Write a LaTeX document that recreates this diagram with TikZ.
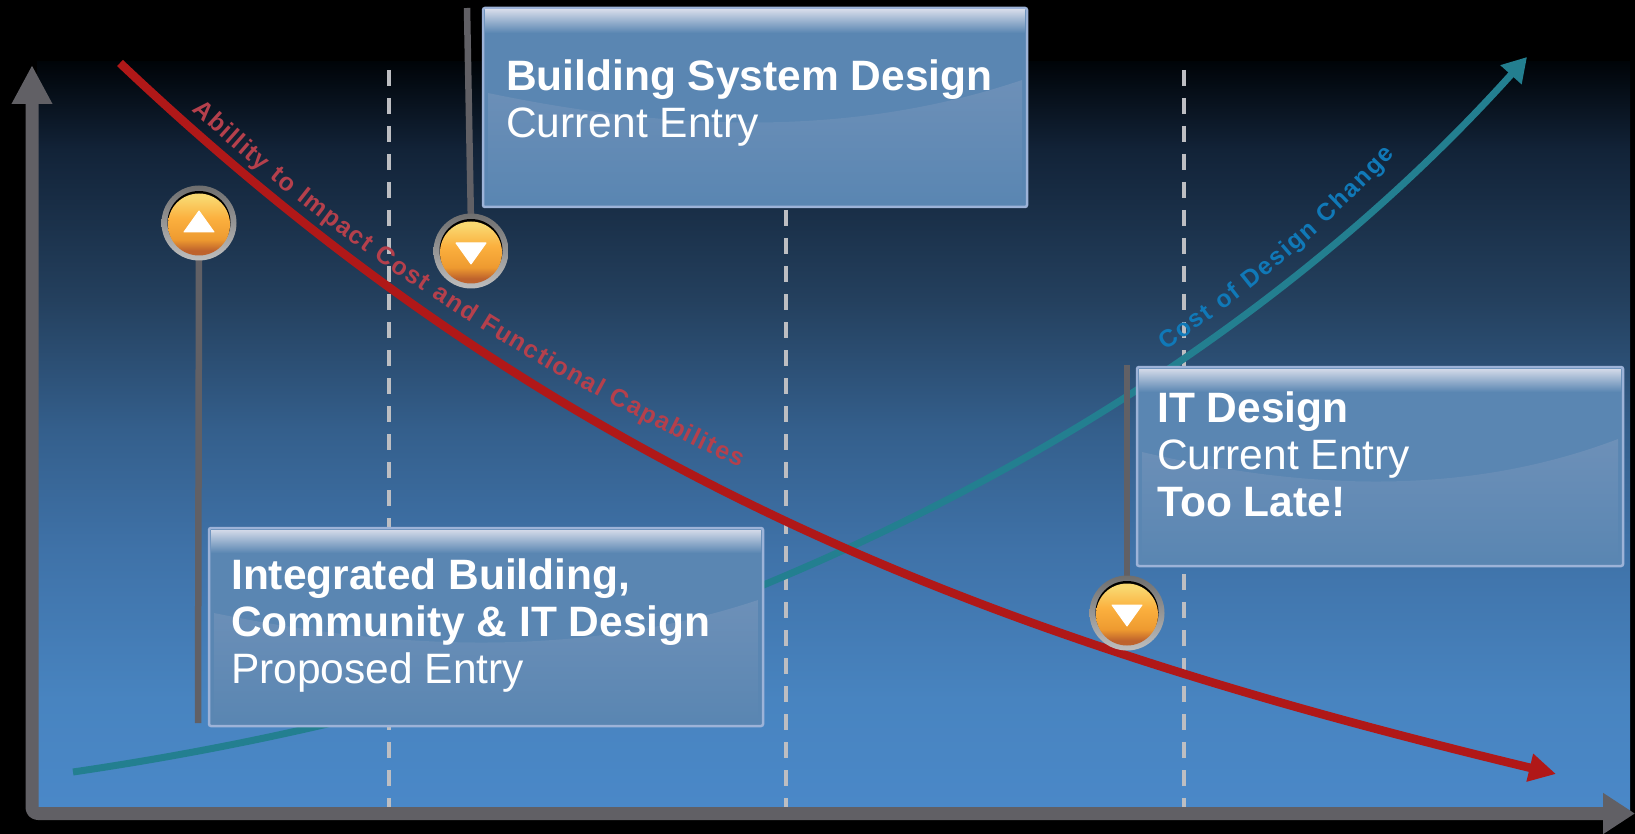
\documentclass[tikz,border=0pt]{standalone}
\usepackage{fontspec}
\setmainfont{Liberation Sans}
\usetikzlibrary{arrows.meta,calc,decorations.text}
\definecolor{bg0}{HTML}{000408}
\definecolor{bg1}{HTML}{122338}
\definecolor{bg2}{HTML}{24405E}
\definecolor{bg3}{HTML}{345F8C}
\definecolor{bg4}{HTML}{3F72A8}
\definecolor{bg5}{HTML}{4884C0}
\definecolor{bg6}{HTML}{4A88C8}
\definecolor{axiscol}{HTML}{616065}
\definecolor{redcol}{HTML}{B01818}
\definecolor{tealcol}{HTML}{237F90}
\definecolor{redtxt}{HTML}{B5404C}
\definecolor{bluetxt}{HTML}{1079B8}
\definecolor{dashcol}{HTML}{BDBEC2}
\definecolor{boxbody}{HTML}{5A86B2}
\definecolor{boxgloss}{HTML}{6D90B8}
\definecolor{boxtop}{HTML}{D2D9E8}
\definecolor{boxedge}{HTML}{9DB3D8}
\definecolor{or1}{HTML}{F9D870}
\definecolor{or2}{HTML}{FBB03E}
\definecolor{or3}{HTML}{EE9A30}
\definecolor{or4}{HTML}{BE622C}
\definecolor{ring1}{HTML}{6E6E6E}
\definecolor{ring2}{HTML}{BEBEBE}
\pgfdeclareverticalshading{bgshade}{100bp}{color(0bp)=(bg6);color(25bp)=(bg6);color(32.35bp)=(bg5);color(42.4bp)=(bg4);color(50.4bp)=(bg3);color(59.1bp)=(bg2);color(69.1bp)=(bg1);color(75bp)=(bg0);color(100bp)=(bg0)}
\pgfdeclareverticalshading{ballshade}{100bp}{color(0bp)=(or4);color(29bp)=(or4);color(38bp)=(or3);color(55bp)=(or2);color(72bp)=(or1);color(100bp)=(or1)}
\newcommand{\glossbox}[3]{%
  \begin{scope}[shift={(#1.north west)}]
    \shade[top color=boxtop,bottom color=boxbody] (2,2) rectangle (#2-2,25);
    \shade[top color=boxgloss,bottom color=boxbody] (5,85) .. controls (.3*#2,118) and (.65*#2,135) .. (#2-5,72) -- (#2-5,#3-5) -- (5,#3-5) -- cycle;
  \end{scope}}
\tikzset{
  x=1pt,y=-1pt,
  axisline/.style={draw=axiscol,line width=13pt,line join=round,rounded corners=6pt},
  dashline/.style={draw=dashcol,line width=4pt,dash pattern=on 16pt off 12pt},
  redcurve/.style={draw=redcol,line width=8.5pt,-{Triangle[width=27pt,length=27pt]}},
  tealcurve/.style={draw=tealcol,line width=7pt,-{Triangle[width=27pt,length=24pt]}},
  stem/.style={draw=axiscol,line width=6.5pt},
  gbox/.style n args={2}{draw=boxedge,line width=2.5pt,rounded corners=2pt,fill=boxbody,anchor=north west,inner sep=0pt,outer sep=0pt,
    minimum width=#1 pt,minimum height=#2 pt},
  btn/.style={circle,minimum size=75pt,inner sep=0pt,outer sep=0pt,top color=ring1,bottom color=ring2,
    path picture={
      \fill[black] (0,-.5) circle (31.5);
      \shade[shading=ballshade] (0,1.5) circle (31);
    }},
  boxtext/.style={anchor=north west,inner sep=0pt,align=left,text=white,font=\fontsize{42.5}{47}\selectfont},
  tri/.style={fill=white,draw=white,line width=1pt,line join=round},
}
\begin{document}
\begin{tikzpicture}
\useasboundingbox (0,0) rectangle (1635,834);
\fill[black] (0,0) rectangle (1635,834);
\shade[shading=bgshade] (37,62) rectangle (1630,810);

% dashed phase lines
\coordinate (d1t) at (389,70); \coordinate (d1b) at (389,807);
\coordinate (d2t) at (786,70); \coordinate (d2b) at (786,807);
\coordinate (d3t) at (1184,70); \coordinate (d3b) at (1184,807);
\draw[dashline] (d1t) -- (d1b);
\draw[dashline] (d2t) -- (d2b);
\draw[dashline] (d3t) -- (d3b);

% axes
\coordinate (ytip) at (32,65); \coordinate (orig) at (32,813.5); \coordinate (xtip) at (1635,813.5);
\draw[axisline,{Triangle[width=38pt,length=39pt]}-{Triangle[width=39pt,length=32pt]}] (ytip) -- (orig) -- (xtip);

% curves
\coordinate (tealA) at (73,772); \coordinate (tealB) at (1527,57);
\draw[tealcurve] (tealA) .. controls (700,680) and (1200,420) .. (tealB);
\coordinate (redA) at (120,63); \coordinate (redB) at (1556,774);
\draw[redcurve] (redA) .. controls (560,480) and (1000,640) .. (redB);

% curve labels
\path[decorate,decoration={text along path,text align={fit to path},
  text={|\fontsize{25}{25}\selectfont\bfseries\color{redtxt}|Abillity to Impact Cost and Functional Capabilites}}]
  (192,110) .. controls (350,260) and (560,385) .. (739,467);
\path[decorate,decoration={text along path,text align={fit to path},
  text={|\fontsize{24.5}{25}\selectfont\bfseries\color{bluetxt}|Cost of Design Change}}]
  (1165,350) .. controls (1250,295) and (1330,225) .. (1395,155);

% stems
\coordinate (s1) at (198,723); \coordinate (s2) at (467,8); \coordinate (s3) at (1127,365);

% boxes
\node[gbox={544}{199}] (bldg) at (483,8) {};
\node[gbox={486}{199}] (itd) at (1137,367) {};
\node[gbox={554}{198}] (integ) at (209,528) {};
\glossbox{bldg}{544}{199}
\glossbox{itd}{486}{199}
\glossbox{integ}{554}{198}
\node[boxtext] (bldgt) at (506,60) {\textbf{Building System Design}\\Current Entry};
\node[boxtext] (itdt) at (1157,392) {\textbf{IT Design}\\Current Entry\\\textbf{Too Late!}};
\node[boxtext] (integt) at (231,558) {\textbf{Integrated Building,}\\\textbf{Community \& IT Design}\\Proposed Entry};

% buttons
\draw[stem] (s1) -- (199,250);
\draw[stem] (s2) -- (471,225);
\draw[stem] (s3) -- (1127,590);
\node[btn] (bup) at (199,223) {};
\node[btn] (bbld) at (471,251) {};
\node[btn] (bit) at (1127,613) {};
\fill[tri] ($(bup)+(0,-12)$) -- ($(bup)+(15,9)$) -- ($(bup)+(-15,9)$) -- cycle;
\fill[tri] ($(bbld)+(0,13)$) -- ($(bbld)+(15,-8)$) -- ($(bbld)+(-15,-8)$) -- cycle;
\fill[tri] ($(bit)+(0,13)$) -- ($(bit)+(15,-8)$) -- ($(bit)+(-15,-8)$) -- cycle;
\end{tikzpicture}
\end{document}
